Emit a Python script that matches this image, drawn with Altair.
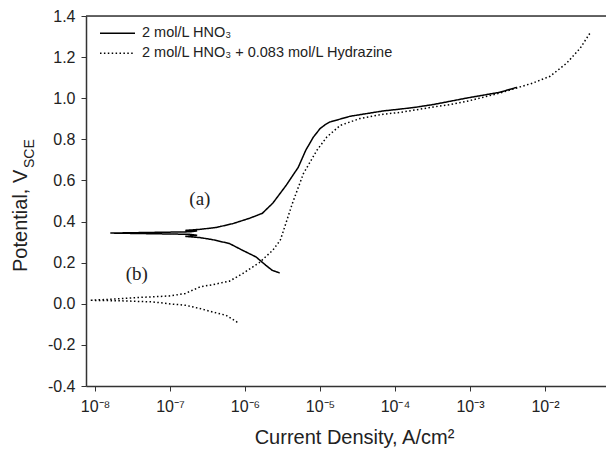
import altair as alt
import pandas as pd

# ---- data ----
# (a) 2 mol/L HNO3 : sweep from cathodic end through Ecorr to anodic end
A_CURRENT = [2.9e-6, 2.3e-6, 1.9e-6, 1.4e-6, 9.3e-7, 6.2e-7, 3.7e-7, 2.5e-7, 1.6e-7,
             2.3e-7, 1.8e-7, 1.6e-8, 1.8e-7, 2.3e-7,
             1.6e-7, 2.5e-7, 4.1e-7, 6.9e-7, 1.15e-6, 1.70e-6, 2.34e-6, 3.55e-6,
             5.13e-6, 6.46e-6, 8.13e-6, 1.0e-5, 1.17e-5, 1.35e-5, 2.5e-5, 6.9e-5,
             1.17e-4, 1.95e-4, 3.2e-4, 5.4e-4, 9.1e-4, 2.5e-3, 4.2e-3]
A_POTENTIAL = [0.150, 0.163, 0.187, 0.228, 0.260, 0.293, 0.312, 0.322, 0.328,
               0.333, 0.338, 0.344, 0.350, 0.354,
               0.357, 0.362, 0.371, 0.390, 0.416, 0.440, 0.489, 0.577,
               0.664, 0.747, 0.810, 0.852, 0.871, 0.884, 0.912, 0.938,
               0.947, 0.957, 0.969, 0.985, 1.001, 1.029, 1.053]

# (b) 2 mol/L HNO3 + 0.083 mol/L Hydrazine
B_CURRENT = [7.9e-7, 5.6e-7, 3.7e-7, 2.5e-7, 1.6e-7, 1.1e-7, 5.9e-8, 2.5e-8, 8.5e-9,
             1.6e-8, 3.5e-8, 9.8e-8, 1.6e-7, 2.5e-7, 3.7e-7, 6.2e-7, 9.3e-7,
             1.55e-6, 2.34e-6, 2.95e-6, 3.16e-6, 4.27e-6, 6.0e-6, 9.1e-6, 1.23e-5,
             1.86e-5, 3.4e-5, 6.9e-5, 1.17e-4, 1.95e-4, 3.2e-4, 5.4e-4, 9.1e-4,
             2.5e-3, 4.2e-3, 6.9e-3, 1.17e-2, 1.95e-2, 2.95e-2, 3.98e-2]
B_POTENTIAL = [-0.090, -0.056, -0.040, -0.023, -0.007, -0.002, 0.009, 0.014, 0.017,
               0.022, 0.030, 0.038, 0.050, 0.082, 0.093, 0.110, 0.147,
               0.200, 0.260, 0.309, 0.341, 0.487, 0.633, 0.747, 0.811,
               0.868, 0.901, 0.922, 0.931, 0.944, 0.957, 0.969, 0.985,
               1.025, 1.050, 1.074, 1.107, 1.171, 1.244, 1.317]

SERIES = ["2 mol/L HNO₃", "2 mol/L HNO₃ + 0.083 mol/L Hydrazine"]

X_TICKS = [1e-8, 1e-7, 1e-6, 1e-5, 1e-4, 1e-3, 1e-2]
X_TICK_LABELS = ["10⁻⁸", "10⁻⁷", "10⁻⁶", "10⁻⁵", "10⁻⁴", "10⁻³", "10⁻²"]
Y_TICKS = [-0.4, -0.2, 0.0, 0.2, 0.4, 0.6, 0.8, 1.0, 1.2, 1.4]

ANNOT_TEXT = ["(a)", "(b)"]
ANNOT_X = [2.5e-7, 3.6e-8]
ANNOT_Y = [0.508, 0.143]

W, H = 520, 370
FONT = "Liberation Sans"
DASHES = [[1, 0], [1.5, 2.4]]

rows = []
for i, (c, p) in enumerate(zip(A_CURRENT, A_POTENTIAL)):
    rows.append({"series": SERIES[0], "current": c, "potential": p, "order": i})
for i, (c, p) in enumerate(zip(B_CURRENT, B_POTENTIAL)):
    rows.append({"series": SERIES[1], "current": c, "potential": p, "order": i})
df = pd.DataFrame(rows)

label_expr = "[" + ",".join("'%s'" % s for s in X_TICK_LABELS) + "][round(log(datum.value)/LN10)+8]"

xscale = alt.Scale(type="log", domain=[10 ** -8.12, 10 ** -1.187], nice=False)
yscale = alt.Scale(domain=[-0.4, 1.4], nice=False)

xaxis = alt.Axis(values=X_TICKS, labelExpr=label_expr, grid=False,
                 title="Current Density, A/cm²", titleFontSize=20, titleFontWeight="normal",
                 titleFont=FONT, titleColor="#222", titleX=268, titleY=57,
                 titleBaseline="alphabetic", titleAlign="center",
                 labelFont=FONT, labelFontSize=16, labelColor="#222", labelPadding=7,
                 tickSize=5, tickColor="#333", domainColor="#333", domainWidth=1.5,
                 labelFlush=False, labelOverlap=False)
yaxis = alt.Axis(values=Y_TICKS, labelExpr="replace(format(datum.value, '.1f'), '\u2212', '-')",
                 grid=False, title=None,
                 labelFont=FONT, labelFontSize=16, labelColor="#222", labelPadding=6,
                 tickSize=5, tickColor="#333", domainColor="#333", domainWidth=1.5,
                 labelFlush=False, labelOverlap=False)

lines = alt.Chart(df).mark_line(color="black", strokeWidth=1.5).encode(
    x=alt.X("current:Q", scale=xscale, axis=xaxis),
    y=alt.Y("potential:Q", scale=yscale, axis=yaxis),
    order="order:Q",
    detail="series:N",
    strokeDash=alt.StrokeDash("series:N", scale=alt.Scale(domain=SERIES, range=DASHES), legend=None),
)

annot_df = pd.DataFrame({"text": ANNOT_TEXT, "current": ANNOT_X, "potential": ANNOT_Y})
annot = alt.Chart(annot_df).mark_text(font="Liberation Serif", fontSize=19, color="#222").encode(
    x=alt.X("current:Q", scale=xscale), y=alt.Y("potential:Q", scale=yscale), text="text:N")

# top frame line
top = alt.Chart(pd.DataFrame({"k": [0]})).mark_rule(color="#333", strokeWidth=1.5).encode(
    x=alt.value(0), x2=alt.value(W), y=alt.value(0))

# manual legend
leg_df = pd.DataFrame({"series": SERIES, "ly": [17.3, 37.3]})
leg_lines = alt.Chart(leg_df).mark_rule(color="black", strokeWidth=1.5).encode(
    x=alt.value(14), x2=alt.value(49), y=alt.Y("ly:Q", scale=None),
    strokeDash=alt.StrokeDash("series:N", scale=alt.Scale(domain=SERIES, range=DASHES), legend=None))
leg_text = alt.Chart(leg_df).mark_text(font=FONT, fontSize=14.5, align="left", baseline="middle", color="#222").encode(
    x=alt.value(56), y=alt.Y("ly:Q", scale=None), text="series:N")

# y-axis title with subscript
ytitle = alt.Chart(pd.DataFrame({"t": ["Potential, V"]})).mark_text(
    font=FONT, fontSize=20, angle=270, align="left", baseline="alphabetic", color="#222").encode(
    x=alt.value(-59), y=alt.value(256), text="t:N")
ysub = alt.Chart(pd.DataFrame({"t": ["SCE"]})).mark_text(
    font=FONT, fontSize=14, angle=270, align="left", baseline="alphabetic", color="#222").encode(
    x=alt.value(-52), y=alt.value(152), text="t:N")

chart = alt.layer(lines, annot, top, leg_lines, leg_text, ytitle, ysub).properties(
    width=W, height=H,
    autosize=alt.AutoSizeParams(type="none"),
    padding={"left": 78, "top": 8, "right": 0, "bottom": 64},
).configure_view(stroke=None).configure(background="white")

chart.save("out.html", embed_options={"renderer": "svg", "actions": False})
